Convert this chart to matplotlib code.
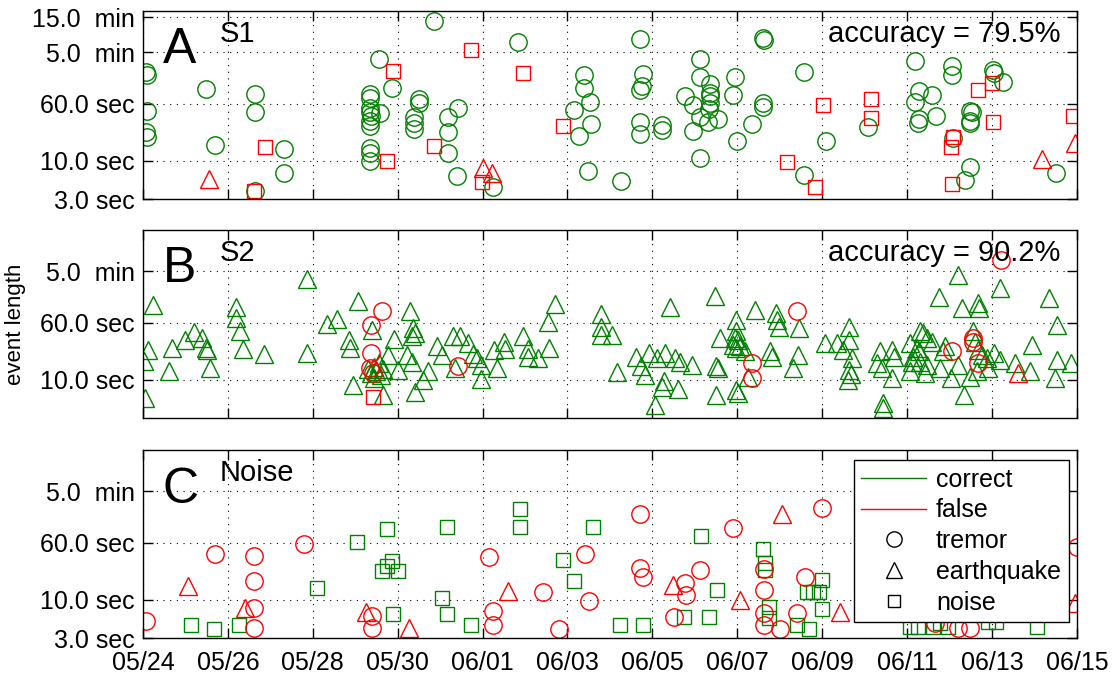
import matplotlib
matplotlib.use('Agg')
import matplotlib.pyplot as plt
from matplotlib.lines import Line2D
from matplotlib.ticker import NullLocator

plt.rcParams['font.family'] = ['Liberation Sans', 'DejaVu Sans']

GREEN = '#008000'
RED = '#ff0000'

# x axis: days after 05/24
xtick_days = list(range(0, 23, 2))
xtick_labels = ['05/24', '05/26', '05/28', '05/30', '06/01', '06/03',
                '06/05', '06/07', '06/09', '06/11', '06/13', '06/15']

# y ticks (seconds) for each panel
yticks_a = [3, 10, 60, 300, 900]
ylabels_a = ['3.0 sec', '10.0 sec', '60.0 sec', '5.0  min', '15.0  min']
yticks_b = [10, 60, 300]
ylabels_b = ['10.0 sec', '60.0 sec', '5.0  min']
yticks_c = [3, 10, 60, 300]
ylabels_c = ['3.0 sec', '10.0 sec', '60.0 sec', '5.0  min']

# ---- panel A : S1 (tremor) ----
a_ok_tremor_day = [0.07, 0.10, 0.09, 0.07, 0.09, 1.48, 1.69, 2.63, 2.63, 3.32, 3.32, 2.63, 5.57,
                   5.35, 5.35, 5.35, 5.35, 5.37, 5.35, 5.35, 5.35, 5.35, 5.35, 5.58, 5.87,
                   6.85, 8.83, 6.50, 6.50, 6.39, 6.39, 6.39, 7.41, 7.18, 7.18, 7.19, 7.39, 8.25,
                   10.40, 10.40, 10.53, 10.15, 10.55, 10.27, 10.48, 11.27,
                   11.71, 11.79, 11.75, 11.71, 11.71, 11.71, 12.23, 12.23,
                   13.12, 13.12, 13.36, 13.36, 13.36, 13.36, 12.77, 12.96, 13.34, 13.12, 13.30,
                   13.55, 12.96, 13.12, 13.95, 13.90, 14.61, 14.63, 14.61, 14.61, 14.34, 13.99,
                   15.58, 16.09, 15.58, 17.09, 18.19, 18.28, 18.19, 18.59, 18.28, 18.25, 18.68,
                   19.05, 19.05, 19.07, 19.49, 19.52, 19.49, 19.49, 19.49, 19.37, 20.02, 20.05,
                   20.27, 21.51]
a_ok_tremor_sec = [160, 148, 47, 24.3, 21, 94, 16.3, 81, 45.5, 14.7, 6.9, 3.9, 242,
                   81, 72, 52.6, 46.4, 41, 35, 30, 15, 12.8, 10, 45, 98,
                   795, 407, 70, 62, 39.5, 32.6, 27.5, 53, 40, 25, 12.8, 6.3, 4.4,
                   147, 99, 64, 48.5, 31.9, 21.7, 7.3, 5.4,
                   450, 153, 105, 92, 34, 23.5, 31, 26.2,
                   242, 140, 112, 83, 77, 62, 77, 57, 50.5, 40, 34,
                   37, 25.6, 10.9, 140, 78, 475, 440, 62, 54, 32, 18.7,
                   164, 18.7, 6.45, 29.3, 229, 89.5, 64, 78, 37, 33, 41,
                   197, 149, 20.3, 48, 45.5, 35, 32.6, 8.3, 5.5, 173, 156,
                   119, 6.9]
a_bad_quake_day = [1.56, 8.02, 8.23, 21.17, 21.96]
a_bad_quake_sec = [5.6, 8.1, 6.8, 10.7, 17.7]
a_bad_noise_day = [2.87, 2.62, 5.75, 5.88, 7.73, 8.96, 9.89, 6.85, 7.98, 16.03, 15.18, 15.83,
                   17.14, 17.14, 19.68, 19.99, 20.03, 19.07, 19.03, 19.05, 21.90]
a_bad_noise_sec = [15.2, 3.9, 10, 166, 321, 157, 30, 16.1, 5.2, 58, 9.5, 4.4,
                   69, 38, 92, 114, 34, 21.4, 15.6, 4.9, 41]

# ---- panel B : S2 (earthquake) ----
b_ok_quake_day = [0.24, 0.12, 0.02, 0.05, 0.69, 0.62, 1.00, 1.20, 1.38, 1.48, 1.50, 1.58, 2.18, 2.18,
                  2.28, 2.36, 2.86, 3.87, 3.87, 4.34, 4.56, 5.06, 5.40, 4.86, 4.88, 4.95,
                  5.30, 5.38, 5.45, 5.50, 5.55, 5.60, 5.45, 5.65,
                  6.30, 6.37, 6.41, 6.34, 5.91, 5.78, 6.21, 6.34, 6.00, 5.66, 6.41, 6.72, 6.60,
                  6.93, 7.04, 7.30, 7.47, 7.66, 7.78, 7.86, 7.96, 7.35, 7.96, 8.33, 8.28, 8.51,
                  8.53, 8.96, 9.08, 9.08, 9.31, 9.57, 9.70, 9.55, 10.80, 10.80, 10.79, 11.06, 11.16,
                  12.41, 13.48, 11.61, 11.72, 11.83, 11.93, 12.10, 12.30, 12.22, 12.28, 12.61,
                  12.05, 12.53, 12.65, 12.93, 13.50, 13.55, 13.50, 13.59, 13.98, 13.98, 13.94,
                  14.02, 13.90, 14.06, 13.98, 14.18, 13.97, 14.01, 14.26, 14.42, 14.90, 14.93,
                  14.99, 15.46, 14.77, 14.81, 15.44, 15.30, 16.07, 16.34, 16.50, 16.62, 16.64,
                  16.64, 16.60, 19.20, 18.76, 20.19, 21.35, 19.29, 19.68, 19.69, 21.54, 16.70,
                  16.67, 17.36, 17.64, 17.68, 17.28, 17.40, 17.64, 17.42, 17.44,
                  18.30, 18.38, 18.07, 18.23, 18.27, 18.15, 18.11, 18.30, 18.46, 18.07, 18.42,
                  18.58, 18.46, 18.89, 18.85, 18.77, 19.03, 19.34, 19.21, 19.48,
                  19.56, 19.60, 19.68, 19.76, 19.87, 19.64, 19.91, 20.05, 20.19, 20.54, 20.90,
                  20.93, 21.52, 21.86, 21.48]
b_ok_quake_sec = [105, 25.6, 18.1, 5.7, 27, 13, 35, 44.5, 37, 27, 25.6, 14.4, 99, 69,
                  45.5, 26.4, 22.4, 237, 23.5, 58, 67, 117, 48, 35, 27, 8.5,
                  14, 12.5, 15, 13, 17, 11.5, 10.5, 14,
                  87, 50.5, 43, 39, 36, 21.9, 21.9, 17.7, 13.7, 6.25, 6.9, 13.2, 10,
                  28.4, 21.9, 40, 39, 31.6, 22.4, 19.8, 16, 14.4, 10.3, 14.7, 25.6, 32.6,
                  26.4, 39, 26.4, 20.7, 20, 27, 109, 62, 78, 53, 41, 41, 12.7,
                  98, 139, 20.7, 15.2, 11.7, 23, 20, 23, 8.1, 9.7, 7.5,
                  4.6, 19.8, 17.7, 16, 15.2, 14.4, 6.25, 37, 66, 45.5, 37,
                  35, 30, 28.4, 27, 24.3, 7.3, 6.6, 11.1, 89.5, 81, 66,
                  53, 50.5, 24.3, 20.7, 21.9, 14.4, 31.6, 31.6, 25.6, 53, 35,
                  13.7, 10, 268, 133, 177, 129, 94, 110, 94, 56, 20,
                  12, 24.3, 25.6, 20.7, 16.9, 14.4, 10.5, 4.8, 4.1,
                  45.5, 43, 31.6, 27, 24.3, 20.7, 17.7, 17.7, 16, 13, 12.3,
                  33, 37, 28.4, 24.3, 14.4, 10.5, 6.25, 16, 11.1,
                  45.5, 33, 25.6, 21.9, 19.8, 13, 14.4, 23, 18.7, 16.9, 13,
                  30, 18.7, 16.9, 10.5]
b_bad_tremor_day = [5.62, 5.37, 5.37, 5.35, 5.42, 7.41, 15.40, 14.34, 14.34, 20.20, 19.56, 19.56,
                    19.05, 19.68]
b_bad_tremor_sec = [87, 56, 23, 14.4, 12.3, 15.5, 85, 17.2, 10.5, 428, 37, 33, 24.8, 17.2]
b_bad_noise_day = [5.41]
b_bad_noise_sec = [5.9]
b_bad_quake_day = [20.62]
b_bad_quake_sec = [12.3]

# ---- panel C : Noise ----
c_ok_noise_day = [1.12, 1.68, 2.26, 4.09, 5.05, 5.75, 7.15, 8.89, 8.89, 10.61, 5.87, 5.74, 5.64,
                  6.00, 7.04, 5.88, 7.15, 7.73, 9.89, 10.15, 11.24, 11.79, 13.14, 13.53, 12.74,
                  13.34, 14.61, 14.65, 14.65, 14.75, 14.75, 15.40, 15.69, 15.63, 15.78, 15.93,
                  16.00, 16.00, 18.07, 18.26, 18.61, 18.77, 18.96, 19.90, 20.10, 21.06]
c_ok_noise_sec = [4.5, 4.0, 4.5, 14.4, 61, 92, 98, 171, 98, 97, 34, 28.4, 24.8,
                  24.3, 10.5, 6.5, 6.5, 4.5, 35, 18.1, 4.5, 4.5, 74, 13.5, 5.9,
                  5.9, 49, 31.6, 25.6, 8.1, 5.6, 4.5, 4.0, 12.6, 12.6, 12.6,
                  18.7, 7.5, 4.3, 4.3, 4.3, 4.8, 4.3, 5.0, 5.0, 4.3]
c_bad_tremor_day = [0.07, 1.70, 2.61, 2.61, 2.61, 2.61, 3.80, 5.39, 5.39, 8.16, 8.25, 8.25, 9.43,
                    9.81, 10.41, 10.51, 11.71, 11.71, 11.79, 12.77, 12.79, 12.51, 13.12, 13.89,
                    14.63, 14.63, 14.63, 14.63, 15.01, 15.60, 15.40, 15.99, 18.66, 19.20, 19.48,
                    22.00]
c_bad_tremor_sec = [5.1, 41.8, 39, 18.1, 7.7, 4.1, 58, 6.1, 4.1, 38, 7.1, 4.5, 12.6,
                    4.0, 41.8, 9.7, 148, 27.5, 20.7, 16.9, 11.7, 5.9, 25.6, 94,
                    26.4, 13.4, 6.6, 4.6, 4.0, 20.7, 6.6, 180, 4.8, 4.2, 4.2,
                    53]
c_bad_quake_day = [1.05, 2.40, 5.25, 8.60, 6.27, 15.06, 12.49, 14.06, 16.43, 21.96]
c_bad_quake_sec = [15.2, 7.85, 6.8, 13, 4.2, 146, 16, 10, 6.9, 9]

MS = {'o': 12.5, '^': 13, 's': 9.5}


def scatter(ax, days, secs, marker, color):
    ax.plot(days, secs, linestyle='none', marker=marker, ms=MS[marker],
            mfc='none', mec=color, mew=1.0)


def style(ax, yticks, ylabels, show_x):
    ax.set_yscale('log')
    ax.set_xlim(0, 22)
    ax.set_ylim(3, 1080)
    ax.set_yticks(yticks)
    ax.set_yticklabels(ylabels)
    ax.yaxis.set_minor_locator(NullLocator())
    ax.set_xticks(xtick_days)
    if show_x:
        ax.set_xticklabels(xtick_labels)
    else:
        ax.set_xticklabels([])
    ax.tick_params(direction='in', length=7, width=1, top=True, right=True,
                   labelsize=18)
    ax.tick_params(axis='y', pad=6)
    ax.tick_params(axis='x', pad=9)
    ax.grid(True, linestyle=(0, (1, 5)), color='k', linewidth=0.8)
    for s in ax.spines.values():
        s.set_linewidth(1)


fig = plt.figure(figsize=(11.16, 6.74), dpi=100)
left, width, height = 0.1281, 0.8369, 0.2789
axA = fig.add_axes([left, 0.7043, width, height])
axB = fig.add_axes([left, 0.3794, width, height])
axC = fig.add_axes([left, 0.0530, width, height])

scatter(axA, a_ok_tremor_day, a_ok_tremor_sec, 'o', GREEN)
scatter(axA, a_bad_quake_day, a_bad_quake_sec, '^', RED)
scatter(axA, a_bad_noise_day, a_bad_noise_sec, 's', RED)
style(axA, yticks_a, ylabels_a, False)
axA.text(0.021, 0.725, 'A', transform=axA.transAxes, fontsize=36)
axA.text(0.082, 0.837, 'S1', transform=axA.transAxes, fontsize=21)
axA.text(0.982, 0.837, 'accuracy = 79.5%', transform=axA.transAxes, fontsize=21, ha='right')

scatter(axB, b_ok_quake_day, b_ok_quake_sec, '^', GREEN)
scatter(axB, b_bad_tremor_day, b_bad_tremor_sec, 'o', RED)
scatter(axB, b_bad_noise_day, b_bad_noise_sec, 's', RED)
scatter(axB, b_bad_quake_day, b_bad_quake_sec, '^', RED)
style(axB, yticks_b, ylabels_b, False)
axB.text(0.021, 0.725, 'B', transform=axB.transAxes, fontsize=36)
axB.text(0.082, 0.837, 'S2', transform=axB.transAxes, fontsize=21)
axB.text(0.982, 0.837, 'accuracy = 90.2%', transform=axB.transAxes, fontsize=21, ha='right')
axB.set_ylabel('event length', fontsize=16, labelpad=10)

scatter(axC, c_ok_noise_day, c_ok_noise_sec, 's', GREEN)
scatter(axC, c_bad_tremor_day, c_bad_tremor_sec, 'o', RED)
scatter(axC, c_bad_quake_day, c_bad_quake_sec, '^', RED)
style(axC, yticks_c, ylabels_c, True)
axC.text(0.021, 0.72, 'C', transform=axC.transAxes, fontsize=36)
axC.text(0.082, 0.837, 'Noise', transform=axC.transAxes, fontsize=21)

handles = [Line2D([], [], color=GREEN, lw=1),
           Line2D([], [], color=RED, lw=1),
           Line2D([], [], ls='none', marker='o', ms=11, mfc='none', mec='k'),
           Line2D([], [], ls='none', marker='^', ms=11, mfc='none', mec='k'),
           Line2D([], [], ls='none', marker='s', ms=9, mfc='none', mec='k')]
leg = axC.legend(handles, ['correct', 'false', 'tremor', 'earthquake', 'noise'],
                 loc='upper right', bbox_to_anchor=(0.991, 0.948), fontsize=18,
                 frameon=True, fancybox=False, framealpha=1, edgecolor='k',
                 handlelength=2.6, handletextpad=0.4, labelspacing=0.27,
                 borderpad=0.3, borderaxespad=0)
leg.get_frame().set_linewidth(1)
leg.set_zorder(10)

fig.savefig('out.png', dpi=100)
